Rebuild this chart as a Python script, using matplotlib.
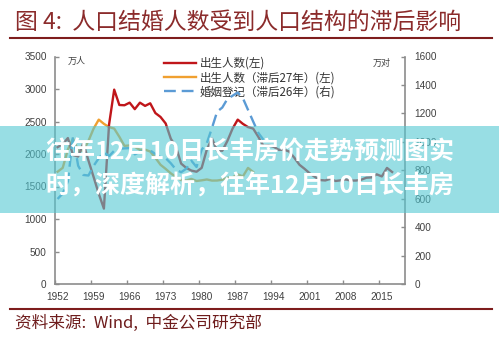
import matplotlib
matplotlib.use("Agg")
import matplotlib.pyplot as plt
from matplotlib.patches import Rectangle
from matplotlib.lines import Line2D
import numpy as np

# ---------------- data ----------------
birth_years = list(range(1952, 2018))
births = [2105, 2151, 2245, 1984, 1961, 2169, 1899, 1647, 1389, 1160,
          2451, 2990, 2754, 2750, 2790, 2690, 2790, 2740, 2780, 2630,
          2570, 2470, 2235, 2109, 1853, 1786, 1745, 1727, 1787, 2069,
          2237, 2052, 2050, 2202, 2391, 2529, 2464, 2414, 2391, 2265,
          2125, 2132, 2110, 2063, 2067, 2038, 1942, 1834, 1771, 1702,
          1647, 1599, 1593, 1617, 1585, 1595, 1608, 1591, 1592, 1604,
          1635, 1640, 1687, 1655, 1786, 1723]

lag_years = list(range(1952, 1991))
births_lag27 = [1727, 1787, 2069, 2237, 2052, 2050, 2202, 2391, 2529, 2464,
                2414, 2391, 2265, 2125, 2132, 2110, 2063, 2067, 2038, 1942,
                1834, 1771, 1702, 1647, 1599, 1593, 1617, 1585, 1595, 1608,
                1591, 1592, 1604, 1635, 1640, 1687, 1655, 1786, 1723]

marr_years = list(range(1952, 1993))
marriages_lag26 = [598, 637, 721, 1040, 832, 767, 763, 831, 884, 927,
                   899, 937, 951, 954, 956, 912, 930, 934, 939, 914,
                   892, 885, 849, 805, 786, 811, 867, 823, 945, 991,
                   1098, 1212, 1241, 1302, 1324, 1347, 1307, 1225, 1143, 1063,
                   1014]

x_labels = [1952, 1959, 1966, 1973, 1980, 1987, 1994, 2001, 2008, 2015]
left_ticks = [0, 500, 1000, 1500, 2000, 2500, 3000, 3500]
right_ticks = [0, 200, 400, 600, 800, 1000, 1200, 1400, 1600]

legend_labels = ["出生人数(左)", "出生人数（滞后27年）(左)", "婚姻登记（滞后26年）(右)"]
title = "图 4:  人口结婚人数受到人口结构的滞后影响"
source = "资料来源:  Wind,  中金公司研究部"
banner_lines = ["往年12月10日长丰房价走势预测图实", "时，深度解析，往年12月10日长丰房"]

# ---------------- style ----------------
W, H = 499, 340
cjk = ["Noto Sans CJK SC", "DejaVu Sans"]
num_font = "Liberation Sans"
red = "#c0161a"
orange = "#f0a030"
blue = "#5b9bd5"
spine_c = "#8c8c8c"
dark_red = "#7e1d1d"

fig = plt.figure(figsize=(W / 100, H / 100), dpi=100)
fig.patch.set_facecolor("white")

ax = fig.add_axes([55 / W, 56 / H, 350 / W, 227.5 / H])
ax2 = ax.twinx()

l1, = ax.plot(birth_years, births, color=red, lw=1.7, solid_joinstyle="round", zorder=3)
l2, = ax.plot(lag_years, births_lag27, color=orange, lw=1.7, solid_joinstyle="round", zorder=2)
l3, = ax2.plot(marr_years, marriages_lag26, color=blue, lw=1.7, dashes=(5, 2.5), zorder=2)

ax.set_xlim(1951.5, 2019.5)
ax.set_ylim(0, 3500)
ax2.set_ylim(0, 1600)

for a in (ax, ax2):
    a.set_facecolor("none")
    for s in a.spines.values():
        s.set_visible(False)
ax.spines["left"].set_visible(True)
ax.spines["bottom"].set_visible(True)
ax2.spines["right"].set_visible(True)
for s in (ax.spines["left"], ax.spines["bottom"], ax2.spines["right"]):
    s.set_color(spine_c)
    s.set_linewidth(1.2)

ax.set_xticks(x_labels)
ax.set_xticklabels([str(v) for v in x_labels])
ax.set_xticks([v - 0.5 for v in x_labels], minor=True)
ax.tick_params(axis="x", which="major", length=0, pad=6)
ax.tick_params(axis="x", which="minor", length=3, direction="in", color=spine_c, width=1)

ax.set_yticks(left_ticks)
ax.tick_params(axis="y", direction="in", length=3, color=spine_c, width=1, pad=6)
ax2.set_yticks(right_ticks)
ax2.tick_params(axis="y", direction="in", length=3, color=spine_c, width=1, pad=7)

for lab in ax.get_xticklabels() + ax.get_yticklabels() + ax2.get_yticklabels():
    lab.set_fontfamily(num_font)
    lab.set_fontsize(7.2)
    lab.set_color("#404040")

# unit labels
fig.text(77 / W, 1 - 61 / H, "万人", fontsize=6.5, family=cjk, color="#404040", ha="center", va="center")
fig.text(382 / W, 1 - 63 / H, "万对", fontsize=6.5, family=cjk, color="#404040", ha="center", va="center")

# legend
leg = ax.legend([l1, l2, l3], legend_labels, loc="upper left",
                bbox_to_anchor=(158 / W, 1 - 51 / H), bbox_transform=fig.transFigure,
                frameon=False, prop={"family": cjk, "size": 8.3},
                handlelength=2.8, handletextpad=0.3, labelspacing=0.12, borderpad=0)
for t in leg.get_texts():
    t.set_color("#333333")

# title + rules
fig.text(15 / W, 1 - 22 / H, title, fontsize=16.5, family=cjk, color="#8b2b2b",
         ha="left", va="center", style="italic")
fig.add_artist(Line2D([10 / W, 492 / W], [1 - 38 / H] * 2, color=dark_red, lw=1.5,
                      transform=fig.transFigure))
fig.add_artist(Line2D([10 / W, 492 / W], [1 - 309 / H] * 2, color=dark_red, lw=1.5,
                      transform=fig.transFigure))
fig.text(15 / W, 1 - 323 / H, source, fontsize=12, family=cjk, color="#6e1c1c",
         ha="left", va="center", style="italic")

# banner overlay
banner = Rectangle((0, 1 - 213 / H), 1, 87 / H, transform=fig.transFigure,
                   facecolor=(83 / 255, 200 / 255, 210 / 255), alpha=0.6,
                   edgecolor="none", zorder=10)
fig.add_artist(banner)
fig.text(0.5, 1 - 153 / H, banner_lines[0], fontsize=18, family=cjk, fontweight="bold",
         color="white", ha="center", va="center", zorder=11)
fig.text(0.5, 1 - 186 / H, banner_lines[1], fontsize=18, family=cjk, fontweight="bold",
         color="white", ha="center", va="center", zorder=11)

fig.savefig("out.png", dpi=100)
